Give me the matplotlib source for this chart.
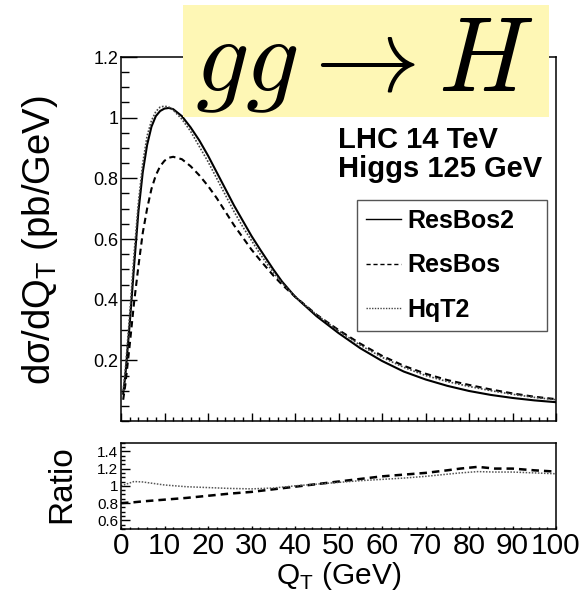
import matplotlib
matplotlib.use("Agg")
import matplotlib.pyplot as plt
from matplotlib.patches import Rectangle
from matplotlib.ticker import MultipleLocator, FixedLocator

plt.rcParams["font.family"] = ["Liberation Sans", "DejaVu Sans"]

# --- values ---
qt = [0.5, 1, 2, 3, 4, 5, 6, 7, 8, 9, 10, 11, 12, 14, 16, 18, 20, 22, 24, 26, 28, 30,
      32, 35, 37, 40, 45, 50, 55, 60, 65, 70, 75, 80, 85, 90, 95, 100]
resbos2 = [0.09, 0.15, 0.32, 0.51, 0.69, 0.82, 0.91, 0.97, 1.005, 1.022, 1.03, 1.032, 1.028,
           1.005, 0.968, 0.925, 0.875, 0.82, 0.765, 0.71, 0.66, 0.61, 0.565, 0.50, 0.46, 0.41,
           0.345, 0.29, 0.24, 0.198, 0.163, 0.137, 0.116, 0.099, 0.086, 0.076, 0.068, 0.062]
resbos = [0.07, 0.12, 0.25, 0.39, 0.51, 0.62, 0.70, 0.765, 0.81, 0.84, 0.858, 0.868, 0.871,
          0.863, 0.84, 0.81, 0.775, 0.735, 0.69, 0.645, 0.605, 0.565, 0.53, 0.48, 0.45, 0.41,
          0.35, 0.30, 0.255, 0.215, 0.182, 0.156, 0.135, 0.119, 0.104, 0.091, 0.080, 0.072]
hqt2 = [0.10, 0.17, 0.35, 0.55, 0.72, 0.85, 0.94, 0.99, 1.02, 1.035, 1.038, 1.035, 1.025,
        0.995, 0.955, 0.905, 0.855, 0.80, 0.745, 0.69, 0.64, 0.595, 0.55, 0.49, 0.455, 0.41,
        0.35, 0.297, 0.25, 0.21, 0.177, 0.15, 0.13, 0.114, 0.10, 0.088, 0.078, 0.070]

qt_ratio = [0, 3, 5, 10, 15, 20, 25, 30, 35, 40, 45, 50, 55, 60, 65, 70, 75, 78, 82, 86,
            90, 95, 100]
ratio_resbos = [0.80, 0.81, 0.82, 0.84, 0.86, 0.885, 0.91, 0.93, 0.96, 0.99, 1.02, 1.05,
                1.08, 1.11, 1.13, 1.15, 1.18, 1.20, 1.22, 1.20, 1.20, 1.18, 1.165]
ratio_hqt2 = [1.0, 1.05, 1.045, 1.01, 0.99, 0.98, 0.97, 0.965, 0.975, 1.0, 1.02, 1.04,
              1.06, 1.075, 1.09, 1.11, 1.135, 1.15, 1.165, 1.16, 1.16, 1.15, 1.14]

main_yticks = [0.2, 0.4, 0.6, 0.8, 1.0, 1.2]
ratio_yticks = [0.6, 0.8, 1.0, 1.2, 1.4]
xticks = [0, 10, 20, 30, 40, 50, 60, 70, 80, 90, 100]

W, H = 585, 601
fig = plt.figure(figsize=(W / 100, H / 100), dpi=100)

ax = fig.add_axes([121 / W, 1 - 421 / H, 435 / W, 364 / H])
axr = fig.add_axes([121 / W, 1 - 529 / H, 435 / W, 86.3 / H])

ax.plot(qt, resbos2, color="black", lw=1.5, label="ResBos2")
ax.plot(qt, resbos, color="black", lw=1.5, ls=(0, (3, 2)), label="ResBos")
ax.plot(qt, hqt2, color="#444444", lw=1.2, ls=(0, (1, 1)), label="HqT2")

axr.plot(qt_ratio, ratio_resbos, color="black", lw=1.8, ls=(0, (3, 2)))
axr.plot(qt_ratio, ratio_hqt2, color="#555555", lw=1.1, ls=(0, (1, 1)))

ax.set_xlim(0, 100)
ax.set_ylim(0, 1.2)
axr.set_xlim(0, 100)
axr.set_ylim(0.5, 1.5)

for a in (ax, axr):
    for s in a.spines.values():
        s.set_linewidth(1.1)
    a.tick_params(which="both", direction="in", top=False, right=False, width=1)
    a.xaxis.set_major_locator(FixedLocator(xticks))
    a.xaxis.set_minor_locator(MultipleLocator(2))
    a.yaxis.set_minor_locator(MultipleLocator(0.05))

ax.set_yticks(main_yticks)
ax.set_yticklabels(["%g" % v for v in main_yticks])
ax.tick_params(axis="y", which="major", length=11.5, labelsize=13, pad=2)
ax.tick_params(axis="y", which="minor", length=5.5)
ax.tick_params(axis="x", which="major", length=5.8, labelbottom=False)
ax.tick_params(axis="x", which="minor", length=3)

axr.set_yticks(ratio_yticks)
axr.set_yticklabels(["%g" % v for v in ratio_yticks])
axr.set_xticklabels([str(v) for v in xticks])
axr.tick_params(axis="y", which="major", length=6.5, labelsize=11, pad=2)
axr.tick_params(axis="y", which="minor", length=3)
axr.tick_params(axis="x", which="major", length=2.5, labelsize=21.5, pad=2.5)
axr.tick_params(axis="x", which="minor", length=1.5)

axr.set_xlabel("Q$_\\mathregular{T}$ (GeV)", fontsize=21.5, labelpad=0)

fig.text(40 / W, 1 - 240 / H, "d\u03c3/dQ$_\\mathregular{T}$ (pb/GeV)", rotation=90,
         ha="center", va="center", fontsize=27.5)
fig.text(62 / W, 1 - 484 / H, "Ratio", rotation=90, ha="center", va="center", fontsize=24)

fig.text(338 / W, 1 - 147.7 / H, "LHC 14 TeV", fontsize=21, fontweight="bold", va="baseline")
fig.text(338 / W, 1 - 176.7 / H, "Higgs 125 GeV", fontsize=21, fontweight="bold",
         va="baseline")

leg = ax.legend(loc="upper left", bbox_to_anchor=(0.5425, 0.2445, 0.4365, 0.3625),
                mode="expand", fancybox=False, edgecolor="#555555", framealpha=1,
                prop={"weight": "bold", "size": 18}, borderpad=0.35, labelspacing=0.82,
                handlelength=1.4, handletextpad=0.25, borderaxespad=0)
leg.get_frame().set_linewidth(1)
for h in leg.get_lines():
    h.set_linewidth(1)

# yellow title box
fig.patches.append(Rectangle((183 / W, 1 - 117 / H), 366 / W, 112 / H,
                             transform=fig.transFigure, facecolor="#FEF7B5",
                             edgecolor="none", zorder=5))
fig.text(364.5 / W, 1 - 91 / H, r"$gg \rightarrow H$", math_fontfamily="cm",
         fontsize=76, ha="center", va="baseline", zorder=6)

fig.savefig("out.png", dpi=100)
